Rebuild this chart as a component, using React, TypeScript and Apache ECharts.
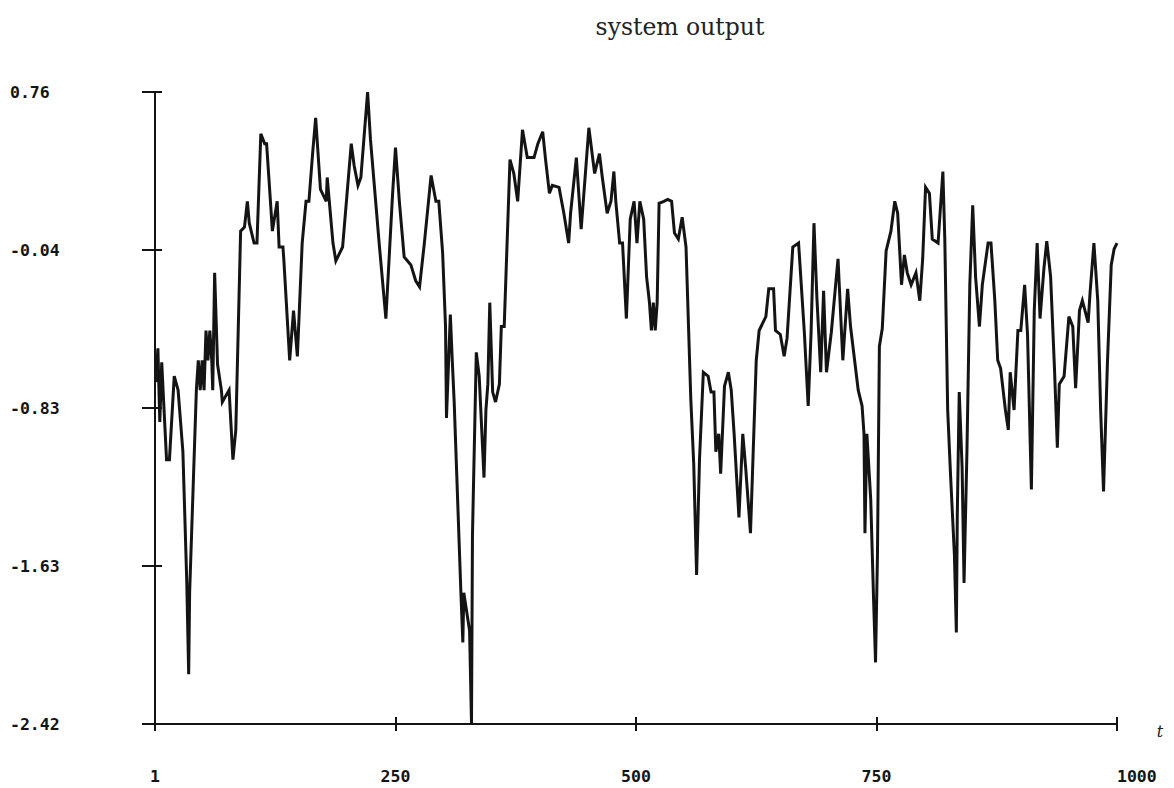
import React, { useEffect, useRef } from "react";
import * as echarts from "echarts";

const chartTitle = "system output";
const xAxisName = "t";
const xTickLabels = ["1", "250", "500", "750", "1000"];
const yTickLabels = ["-2.42", "-1.63", "-0.83", "-0.04", "0.76"];

// [t, output] samples, in four stretches of the record
const outputStart: [number, number][] = [
  [1, -0.7], [3, -0.53], [5, -0.9], [7, -0.6], [9, -0.8], [12, -1.09], [15, -1.09], [20, -0.67], [24, -0.74],
  [29, -1.05], [33, -1.7], [35, -2.17], [36, -1.76], [43, -0.74], [45, -0.59], [47, -0.74], [49, -0.59], [51, -0.74],
  [53, -0.44], [55, -0.59], [57, -0.44], [59, -0.59], [60, -0.74], [62, -0.15], [65, -0.61], [69, -0.74], [70, -0.8],
  [77, -0.74], [81, -1.09], [84, -0.94], [89, 0.06], [93, 0.08], [96, 0.21], [98, 0.1], [103, 0.0], [106, 0.0],
  [110, 0.55], [114, 0.5], [116, 0.5], [120, 0.21], [122, 0.06], [127, 0.21], [129, -0.02], [133, -0.02], [134, -0.09],
  [140, -0.59], [144, -0.34], [148, -0.57], [153, 0.0], [157, 0.21], [160, 0.21], [164, 0.46], [167, 0.63], [172, 0.27],
  [178, 0.21], [179, 0.33], [185, 0.0], [188, -0.09], [195, -0.02], [204, 0.5], [207, 0.39], [211, 0.29], [214, 0.33],
  [221, 0.76], [224, 0.52], [233, 0.0], [240, -0.38], [247, 0.25], [250, 0.48], [254, 0.21], [259, -0.07],
  [266, -0.11], [271, -0.19], [275, -0.22], [280, 0.0], [287, 0.34], [292, 0.21], [295, 0.21], [299, -0.05],
  [302, -0.42], [303, -0.88], [307, -0.36], [309, -0.59], [311, -0.8], [318, -1.76], [320, -2.01], [321, -1.76],
  [327, -1.95], [329, -2.42], [330, -1.47], [334, -0.55], [337, -0.67], [342, -1.18], [344, -0.84], [346, -0.71],
  [348, -0.3], [351, -0.75], [354, -0.8], [358, -0.71],
];

const outputSecond: [number, number][] = [
  [360, -0.42], [363, -0.42], [366, 0.0], [369, 0.42], [373, 0.35], [377, 0.21], [382, 0.57], [387, 0.43],
  [394, 0.43], [398, 0.5], [403, 0.56], [406, 0.42], [410, 0.25], [413, 0.29], [420, 0.28], [425, 0.15], [430, 0.0],
  [432, 0.15], [438, 0.43], [443, 0.07], [451, 0.58], [457, 0.35], [462, 0.45], [465, 0.33], [470, 0.15], [474, 0.21],
  [477, 0.36], [479, 0.21], [483, 0.0], [486, 0.0], [490, -0.38], [494, 0.12], [498, 0.21], [501, 0.0], [504, 0.21],
  [508, 0.12], [511, -0.17],
];

const outputThird: [number, number][] = [
  [514, -0.3], [516, -0.44], [518, -0.3], [520, -0.44], [522, -0.3], [524, 0.2], [529, 0.21], [533, 0.22],
  [537, 0.21], [540, 0.05], [544, 0.02], [548, 0.13], [552, -0.02], [557, -0.79], [560, -1.11], [563, -1.67],
  [566, -1.09], [570, -0.65], [575, -0.67], [578, -0.75], [581, -0.75], [583, -1.05], [586, -0.96], [588, -1.16],
  [592, -0.72], [596, -0.65], [599, -0.74], [602, -0.96], [607, -1.38], [611, -0.96], [614, -1.13], [619, -1.46],
  [625, -0.59], [628, -0.44], [635, -0.37], [638, -0.23], [643, -0.23], [645, -0.44], [650, -0.46], [654, -0.57],
  [657, -0.48], [663, -0.02], [669, 0.0], [675, -0.45], [679, -0.82], [682, -0.45], [685, 0.1], [688, -0.27],
  [692, -0.65], [695, -0.24], [698, -0.65], [703, -0.45], [710, -0.08], [715, -0.59], [720, -0.23], [723, -0.42],
  [731, -0.74], [735, -0.82], [737, -0.96], [738, -1.46], [740, -0.96], [744, -1.29], [747, -1.8], [749, -2.11],
  [751, -1.57], [753, -0.52], [756, -0.43],
];

const outputEnd: [number, number][] = [
  [760, -0.04], [765, 0.06], [769, 0.21], [772, 0.15], [776, -0.21], [779, -0.06], [782, -0.15], [786, -0.21],
  [791, -0.15], [795, -0.29], [798, -0.08], [801, 0.28], [805, 0.25], [808, 0.02], [814, 0.0], [819, 0.36],
  [821, 0.02], [824, -0.84], [827, -1.17], [831, -1.57], [833, -1.96], [834, -1.36], [836, -0.75], [839, -1.13],
  [841, -1.71], [844, -1.05], [847, -0.21], [850, 0.19], [853, -0.17], [857, -0.42], [860, -0.21], [866, 0.0],
  [869, 0.0], [873, -0.29], [876, -0.59], [879, -0.63], [884, -0.84], [887, -0.94], [889, -0.65], [893, -0.84],
  [897, -0.44], [900, -0.44], [904, -0.21], [907, -0.46], [911, -1.24], [914, -0.34], [917, 0.0], [920, -0.38],
  [924, -0.13], [927, 0.01], [931, -0.17], [935, -0.63], [938, -1.03], [940, -0.71], [945, -0.67], [950, -0.37],
  [954, -0.42], [957, -0.73], [961, -0.34], [964, -0.29], [970, -0.4], [972, -0.25], [976, 0.0], [980, -0.29],
  [983, -0.84], [986, -1.25], [990, -0.61], [994, -0.11], [997, -0.03], [1000, 0.0],
];

const Y_MIN = -2.42;
const Y_MAX = 0.76;
const Y_STEP = 0.795;

export default function App() {
  const ref = useRef<HTMLDivElement>(null);

  useEffect(() => {
    if (!ref.current) return;
    const chart = echarts.init(ref.current, null, { renderer: "svg" });
    const data = [...outputStart, ...outputSecond, ...outputThird, ...outputEnd];
    const ink = "#141414";
    const labelFont = {
      fontFamily: "DejaVu Sans Mono",
      fontWeight: "bold" as const,
      fontSize: 16.5,
      color: ink,
    };
    const yBase = {
      type: "value" as const,
      min: Y_MIN,
      max: Y_MAX,
      interval: Y_STEP,
      splitLine: { show: false },
      position: "left" as const,
    };
    const xBase = {
      type: "value" as const,
      min: 0,
      max: 1000,
      interval: 250,
      splitLine: { show: false },
      position: "bottom" as const,
    };
    chart.setOption({
      animation: false,
      backgroundColor: "#ffffff",
      grid: { left: 155, right: 57, top: 92, bottom: 64, containLabel: false },
      xAxis: [
        {
          ...xBase,
          axisLine: { show: true, onZero: false, lineStyle: { color: ink, width: 2 } },
          axisTick: { show: true, inside: false, length: 7, lineStyle: { color: ink, width: 2 } },
          axisLabel: {
            ...labelFont,
            margin: 44,
            alignMaxLabel: "left",
            formatter: (v: number) => xTickLabels[Math.round(v / 250)] ?? "",
          },
        },
        {
          ...xBase,
          axisLine: { show: false, onZero: false },
          axisTick: { show: true, inside: true, length: 7, lineStyle: { color: ink, width: 2 } },
          axisLabel: { show: false },
        },
      ],
      yAxis: [
        {
          ...yBase,
          axisLine: { show: true, onZero: false, lineStyle: { color: ink, width: 2 } },
          axisTick: { show: true, inside: false, length: 13, lineStyle: { color: ink, width: 2 } },
          axisLabel: {
            ...labelFont,
            align: "left",
            margin: 145,
            formatter: (v: number) => yTickLabels[Math.round((v - Y_MIN) / Y_STEP)] ?? "",
          },
        },
        {
          ...yBase,
          axisLine: { show: false, onZero: false },
          axisTick: { show: true, inside: true, length: 7, lineStyle: { color: ink, width: 2 } },
          axisLabel: { show: false },
        },
      ],
      graphic: [
        {
          type: "text",
          x: 680,
          y: 27,
          style: {
            text: chartTitle,
            fill: "#222",
            font: '23.5px "DejaVu Serif"',
            textAlign: "center",
            textVerticalAlign: "middle",
          },
        },
        {
          type: "text",
          x: 1160,
          y: 731,
          style: {
            text: xAxisName,
            fill: "#222",
            font: 'italic 16px "DejaVu Serif"',
            textAlign: "center",
            textVerticalAlign: "middle",
          },
        },
      ],
      series: [
        {
          type: "line",
          xAxisIndex: 0,
          yAxisIndex: 0,
          data,
          showSymbol: false,
          symbol: "none",
          lineStyle: { color: ink, width: 3, join: "miter" },
        },
      ],
    });
    return () => chart.dispose();
  }, []);

  return (
    <div
      ref={ref}
      style={{ position: "fixed", left: 0, top: 0, width: 1174, height: 788, background: "#fff" }}
    />
  );
}
